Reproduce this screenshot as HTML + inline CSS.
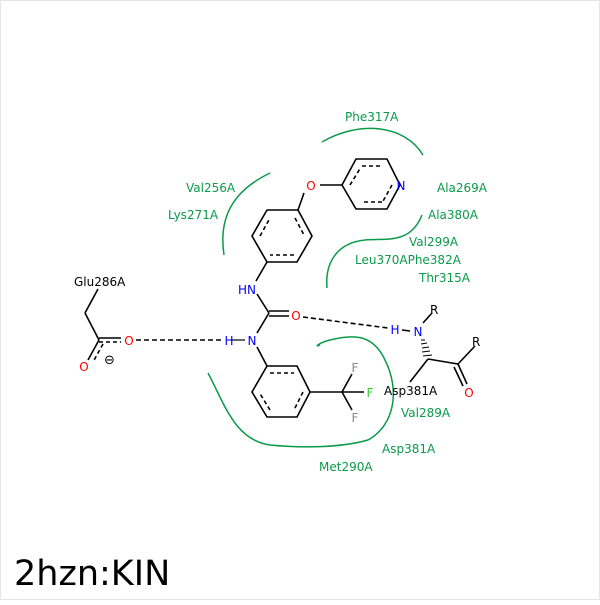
<!DOCTYPE html>
<html><head><style>body{margin:0;background:#fff}</style></head><body>
<svg width="600" height="600" xmlns="http://www.w3.org/2000/svg" font-family="DejaVu Sans, Liberation Sans, sans-serif" font-size="12">
<rect x="0.5" y="0.5" width="599" height="599" fill="#fff" stroke="#e6e6e6"/>
<g fill="none" stroke="#0a9a4a" stroke-width="1.5">
<path d="M322,142 C360,120 405,125 423,155"/>
<path d="M270,173 C235,190 218,215 224,255"/>
<path d="M422,215 C410,245 385,238 365,240 C335,243 325,265 327,288"/>
<path d="M208,373 C225,405 235,440 270,445 C300,448 340,448 368,440 C395,425 400,390 385,360 C372,332 350,335 330,340 C318,343 314,348 320,345"/>
</g>
<g stroke="#000" stroke-width="1.6" fill="none">
<polygon points="356,159 387,159 400,185 387,209 356,209 342,185"/>
<polyline points="362,166 383,166" stroke-dasharray="4,3"/>
<polyline points="392,185 382,203" stroke-dasharray="4,3"/>
<polyline points="382,202 361,202" stroke-dasharray="4,3"/>
<polyline points="350,185 361,167" stroke-dasharray="4,3"/>
<line x1="320" y1="185" x2="342" y2="185"/>
<line x1="304" y1="193" x2="298" y2="210"/>
<polygon points="298,210 312,236 297,262 267,262 252,236 267,210"/>
<g stroke-dasharray="4,3"><line x1="295" y1="218" x2="304" y2="235"/><line x1="294" y1="255" x2="270" y2="255"/><line x1="260" y1="236" x2="270" y2="218"/></g>
<line x1="267" y1="262" x2="256" y2="281"/>
<line x1="257" y1="294" x2="269" y2="313"/>
<line x1="269" y1="311" x2="289" y2="311"/><line x1="269" y1="316" x2="289" y2="316"/>
<line x1="269" y1="313" x2="257" y2="333"/>
<line x1="257" y1="347" x2="267" y2="366"/>
<polygon points="267,366 297,366 310,392 297,417 267,417 252,392"/>
<g stroke-dasharray="4,3"><line x1="270" y1="373" x2="294" y2="373"/><line x1="303" y1="392" x2="294" y2="410"/><line x1="270" y1="410" x2="259" y2="392"/></g>
<line x1="310" y1="392" x2="342" y2="392"/>
<line x1="342" y1="392" x2="352" y2="374"/><line x1="342" y1="392" x2="364" y2="392"/><line x1="342" y1="392" x2="352" y2="410"/>
<line x1="98" y1="289" x2="85" y2="313"/><line x1="85" y1="313" x2="99" y2="340"/>
<line x1="99" y1="338" x2="121" y2="338"/><line x1="99" y1="342" x2="121" y2="342" stroke-dasharray="4,3"/>
<line x1="99" y1="340" x2="88" y2="360"/><line x1="103" y1="344" x2="93" y2="362" stroke-dasharray="4,3"/>
<line x1="136" y1="340" x2="222" y2="340" stroke-dasharray="5,3"/>
<line x1="303" y1="317" x2="388" y2="328" stroke-dasharray="5,3"/>
<line x1="402" y1="330" x2="410" y2="331"/>
<line x1="423" y1="323" x2="432" y2="313"/>
<line x1="428" y1="359" x2="458" y2="364"/>
<line x1="458" y1="364" x2="475" y2="346"/>
<line x1="458" y1="364" x2="467" y2="384"/><line x1="454" y1="367" x2="463" y2="386"/>
<line x1="428" y1="359" x2="410" y2="382"/>
<line x1="230" y1="340" x2="245" y2="340" stroke-width="1.2"/>
</g>
<g stroke="#000" stroke-width="1">
<line x1="421" y1="340" x2="425" y2="340"/><line x1="421" y1="344" x2="427" y2="343"/><line x1="422" y1="348" x2="429" y2="347"/><line x1="422" y1="352" x2="430" y2="351"/><line x1="423" y1="356" x2="432" y2="355"/>
</g>
<g fill="#0a9a4a">
<text x="345" y="121">Phe317A</text>
<text x="186" y="192">Val256A</text>
<text x="168" y="219">Lys271A</text>
<text x="437" y="192">Ala269A</text>
<text x="428" y="219">Ala380A</text>
<text x="409" y="246">Val299A</text>
<text x="355" y="264">Leu370APhe382A</text>
<text x="419" y="282">Thr315A</text>
<text x="401" y="417">Val289A</text>
<text x="382" y="453">Asp381A</text>
<text x="319" y="471">Met290A</text>
</g>
<g fill="#000"><text x="74" y="286">Glu286A</text><text x="384" y="395">Asp381A</text><text x="430" y="314">R</text><text x="472" y="346">R</text><text x="104" y="364" font-size="13">⊖</text></g>
<g fill="#f00" text-anchor="middle"><text x="311" y="190">O</text><text x="296" y="320">O</text><text x="129" y="345">O</text><text x="84" y="371">O</text><text x="469" y="397">O</text></g>
<g fill="#00f" text-anchor="middle"><text x="401" y="190">N</text><text x="247" y="294">HN</text><text x="252" y="345">N</text><text x="229" y="345">H</text><text x="395" y="334">H</text><text x="418" y="336">N</text></g>
<g fill="#3c3" text-anchor="middle"><text x="355" y="372" fill="#888">F</text><text x="370" y="397">F</text><text x="355" y="422" fill="#888">F</text></g>
<text x="14" y="585" font-size="35" fill="#000">2hzn:KIN</text>
</svg>
</body></html>
